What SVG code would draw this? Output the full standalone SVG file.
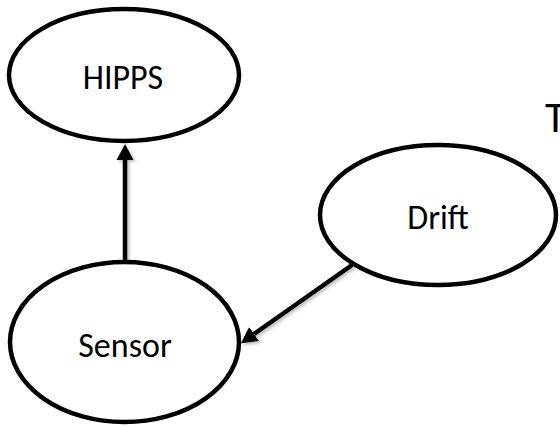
<svg xmlns="http://www.w3.org/2000/svg" width="560" height="427" viewBox="0 0 560 427">
  <style>
    .node ellipse { fill: #ffffff; stroke: #000000; stroke-width: 4.5; }
    .node text { font-family: Carlito, Lato, "Liberation Sans", sans-serif; font-size: 34px; fill: #000000; text-anchor: middle; }
    .edge { stroke: #000000; stroke-width: 4.5; fill: none; marker-end: url(#arrow); }
    .note { font-family: Carlito, Lato, "Liberation Sans", sans-serif; font-size: 43px; fill: #000000; }
  </style>
  <defs>
    <marker id="arrow" viewBox="0 -9 16 18" refX="0" refY="0" markerWidth="16" markerHeight="18" markerUnits="userSpaceOnUse" orient="auto">
      <path d="M0,-8.5 L16,0 L0,8.5 z" fill="#000000"/>
    </marker>
    <filter id="shade" x="-20%" y="-20%" width="140%" height="140%">
      <feDropShadow dx="2" dy="2" stdDeviation="1.5" flood-color="#000000" flood-opacity="0.25"/>
    </filter>
  </defs>

  <rect width="560" height="427" fill="#ffffff"/>

  <!-- connectors -->
  <g id="edges" filter="url(#shade)">
    <line id="sensor-hipps" class="edge" x1="125" y1="262" x2="125" y2="160"/>
    <line id="drift-sensor" class="edge" x1="352" y1="265" x2="254" y2="334"/>
  </g>

  <!-- nodes -->
  <g id="hipps" class="node">
    <ellipse cx="124" cy="75" rx="115" ry="66"/>
    <text x="123" y="89">HIPPS</text>
  </g>
  <g id="drift" class="node">
    <ellipse cx="438" cy="215" rx="118" ry="70"/>
    <text x="438" y="229">Drift</text>
  </g>
  <g id="sensor" class="node">
    <ellipse cx="124.5" cy="342" rx="114.5" ry="80"/>
    <text x="125" y="357">Sensor</text>
  </g>

  <text class="note" x="545" y="132">T</text>
</svg>
